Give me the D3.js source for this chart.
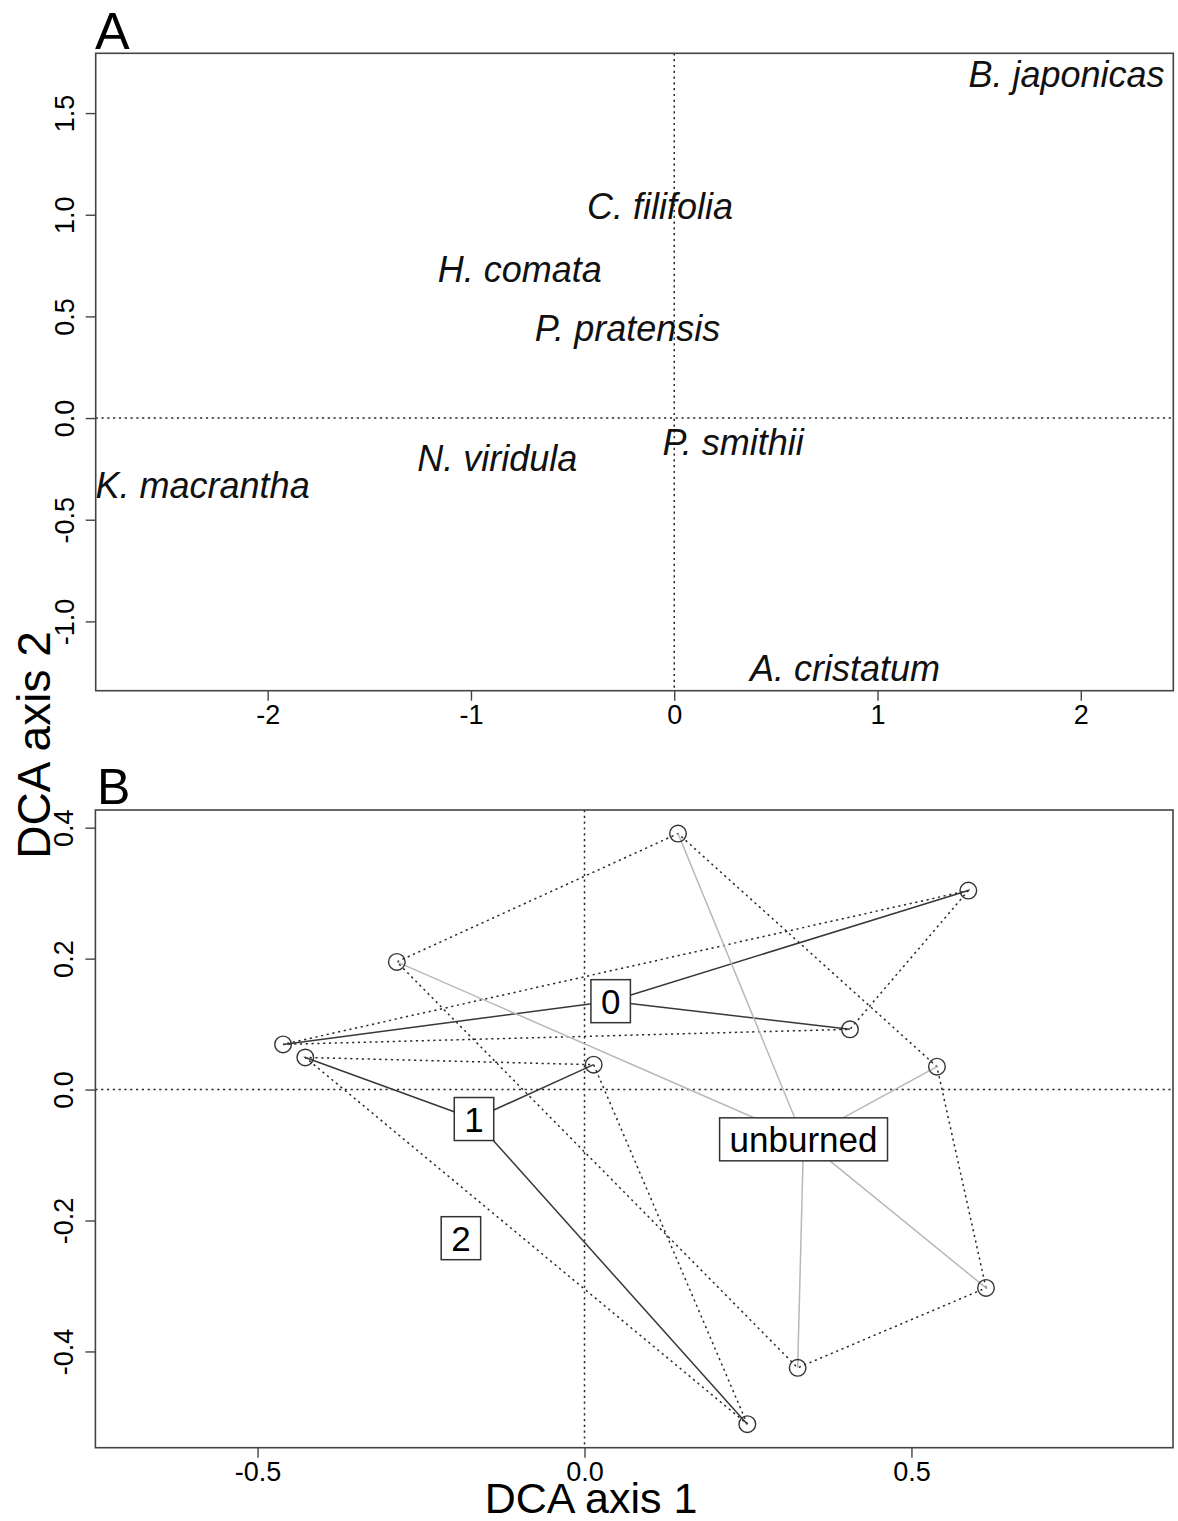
<!DOCTYPE html>
<html>
<head>
<meta charset="utf-8">
<script src="https://cdn.jsdelivr.net/npm/d3@7"></script>
<style>
  html, body { margin: 0; padding: 0; background: #fff; }
  svg { display: block; font-family: "Liberation Sans", Arial, sans-serif; }
</style>
</head>
<body>
<svg id="chart" width="1178" height="1521"></svg>
<script>
// ---- Panel A: species scores on DCA axes ----
const speciesNames = ["B. japonicas", "C. filifolia", "H. comata", "P. pratensis",
                      "N. viridula", "P. smithii", "K. macrantha", "A. cristatum"];
const speciesAxis1 = [1.93, -0.07, -0.76, -0.23, -0.87, 0.29, -2.32, 0.84];
const speciesAxis2 = [1.69, 1.04, 0.73, 0.44, -0.20, -0.12, -0.33, -1.23];

const aTicksX = [-2, -1, 0, 1, 2];
const aTickLabelsX = ["-2", "-1", "0", "1", "2"];
const aTicksY = [-1.0, -0.5, 0.0, 0.5, 1.0, 1.5];
const aTickLabelsY = ["-1.0", "-0.5", "0.0", "0.5", "1.0", "1.5"];

// ---- Panel B: site scores grouped by burn history ----
const siteAxis1 = [0.143, 0.587, -0.287, 0.406, 0.539, -0.461, -0.427, 0.014, 0.614, 0.326, 0.249];
const siteAxis2 = [0.391, 0.304, 0.195, 0.092, 0.035, 0.069, 0.049, 0.038, -0.303, -0.425, -0.511];
const siteGroup = ["unburned", "0", "unburned", "0", "unburned", "0", "1", "1", "unburned", "unburned", "1"];

const groupNames = ["0", "1", "2", "unburned"];
const groupAxis1 = [0.040, -0.169, -0.189, 0.335];
const groupAxis2 = [0.135, -0.045, -0.227, -0.076];

const bTicksX = [-0.5, 0.0, 0.5];
const bTickLabelsX = ["-0.5", "0.0", "0.5"];
const bTicksY = [-0.4, -0.2, 0.0, 0.2, 0.4];
const bTickLabelsY = ["-0.4", "-0.2", "0.0", "0.2", "0.4"];

const svg = d3.select("#chart");
const FONT = '"Liberation Sans", Arial, sans-serif';
const frameColor = "#444";
const dotColor = "#2a2a2a";
const DOTS = "2.2,3.6";

function drawFrameAndAxes(g, x, y, ticksX, labelsX, ticksY, labelsY) {
  const [x0, x1] = x.range();
  const [y0, y1] = y.range(); // y0 bottom, y1 top

  // reference lines through the origin
  g.append("line")
    .attr("x1", x(0)).attr("x2", x(0)).attr("y1", y1).attr("y2", y0)
    .attr("stroke", dotColor).attr("stroke-width", 1.5).attr("stroke-dasharray", DOTS);
  g.append("line")
    .attr("x1", x0).attr("x2", x1).attr("y1", y(0)).attr("y2", y(0))
    .attr("stroke", dotColor).attr("stroke-width", 1.5).attr("stroke-dasharray", DOTS);

  // bottom axis
  const ax = d3.axisBottom(x).tickValues(ticksX)
    .tickFormat((d, i) => labelsX[i]).tickSize(10).tickPadding(4).tickSizeOuter(0);
  const gx = g.append("g").attr("transform", `translate(0,${y0})`).call(ax);
  gx.select(".domain").remove();
  gx.selectAll(".tick line").attr("stroke", frameColor).attr("stroke-width", 1.4);
  gx.selectAll(".tick text").attr("font-family", FONT).attr("font-size", 27).attr("fill", "#000");

  // left axis with rotated labels
  const ay = d3.axisLeft(y).tickValues(ticksY)
    .tickFormat((d, i) => labelsY[i]).tickSize(10).tickSizeOuter(0);
  const gy = g.append("g").attr("transform", `translate(${x0},0)`).call(ay);
  gy.select(".domain").remove();
  gy.selectAll(".tick line").attr("stroke", frameColor).attr("stroke-width", 1.4);
  gy.selectAll(".tick text")
    .attr("font-family", FONT).attr("font-size", 27).attr("fill", "#000")
    .attr("x", null).attr("dy", null)
    .attr("text-anchor", "middle")
    .attr("transform", "translate(-22,0) rotate(-90)")
    .attr("y", 0);

  // frame
  g.append("rect")
    .attr("x", x0).attr("y", y1).attr("width", x1 - x0).attr("height", y0 - y1)
    .attr("fill", "none").attr("stroke", frameColor).attr("stroke-width", 1.6);
}

// ===== Panel A =====
const xA = d3.scaleLinear().domain([-2.846, 2.455]).range([95.7, 1173.3]);
const yA = d3.scaleLinear().domain([-1.341, 1.794]).range([690.7, 53.3]);
const gA = svg.append("g");
drawFrameAndAxes(gA, xA, yA, aTicksX, aTickLabelsX, aTicksY, aTickLabelsY);

gA.selectAll("text.species")
  .data(speciesNames)
  .join("text")
  .attr("class", "species")
  .attr("x", (d, i) => xA(speciesAxis1[i]))
  .attr("y", (d, i) => yA(speciesAxis2[i]))
  .attr("text-anchor", "middle")
  .attr("dominant-baseline", "central")
  .attr("font-family", FONT)
  .attr("font-style", "italic")
  .attr("font-size", 36)
  .attr("fill", "#111")
  .text(d => d);

svg.append("text").attr("x", 95).attr("y", 49)
  .attr("font-family", FONT).attr("font-size", 52).attr("fill", "#000").text("A");

// ===== Panel B =====
const xB = d3.scaleLinear().domain([-0.748, 0.900]).range([95.4, 1173]);
const yB = d3.scaleLinear().domain([-0.547, 0.427]).range([1447.7, 810]);
const gB = svg.append("g");
drawFrameAndAxes(gB, xB, yB, bTicksX, bTickLabelsX, bTicksY, bTickLabelsY);

const sites = siteAxis1.map((v, i) => ({ a1: v, a2: siteAxis2[i], group: siteGroup[i] }));
const groups = groupNames.map((name, i) => ({ name, a1: groupAxis1[i], a2: groupAxis2[i] }));

// dotted convex hulls per group
groups.forEach(grp => {
  const pts = sites.filter(s => s.group === grp.name).map(s => [xB(s.a1), yB(s.a2)]);
  if (pts.length < 3) return;
  const hull = d3.polygonHull(pts);
  gB.append("path")
    .attr("d", "M" + hull.map(p => p.join(",")).join("L") + "Z")
    .attr("fill", "none").attr("stroke", dotColor)
    .attr("stroke-width", 1.5).attr("stroke-dasharray", DOTS);
});

// spider segments from group label to each site
groups.forEach(grp => {
  const col = grp.name === "unburned" ? "#b8b8b8" : "#383838";
  sites.filter(s => s.group === grp.name).forEach(s => {
    gB.append("line")
      .attr("x1", xB(grp.a1)).attr("y1", yB(grp.a2))
      .attr("x2", xB(s.a1)).attr("y2", yB(s.a2))
      .attr("stroke", col).attr("stroke-width", 1.5);
  });
});

// site points
gB.selectAll("circle.site")
  .data(sites)
  .join("circle")
  .attr("class", "site")
  .attr("cx", d => xB(d.a1)).attr("cy", d => yB(d.a2))
  .attr("r", 8.3)
  .attr("fill", "none").attr("stroke", "#333").attr("stroke-width", 1.4);

// boxed group labels
groups.forEach(grp => {
  const cx = xB(grp.a1), cy = yB(grp.a2);
  const lg = gB.append("g");
  const t = lg.append("text")
    .attr("x", cx).attr("y", cy)
    .attr("text-anchor", "middle").attr("dominant-baseline", "central")
    .attr("font-family", FONT).attr("font-size", 35).attr("fill", "#000")
    .text(grp.name);
  const bb = t.node().getBBox();
  const padX = 10, h = 43;
  lg.insert("rect", "text")
    .attr("x", bb.x - padX).attr("y", cy - h / 2)
    .attr("width", bb.width + 2 * padX).attr("height", h)
    .attr("fill", "#fff").attr("stroke", "#333").attr("stroke-width", 1.5);
});

svg.append("text").attr("x", 97).attr("y", 804)
  .attr("font-family", FONT).attr("font-size", 50).attr("fill", "#000").text("B");

// shared axis titles
svg.append("text").attr("x", 591).attr("y", 1513)
  .attr("text-anchor", "middle")
  .attr("font-family", FONT).attr("font-size", 43).attr("fill", "#000")
  .text("DCA axis 1");

svg.append("text")
  .attr("transform", "translate(50,745) rotate(-90)")
  .attr("text-anchor", "middle")
  .attr("font-family", FONT).attr("font-size", 46).attr("fill", "#000")
  .text("DCA axis 2");
</script>
</body>
</html>
